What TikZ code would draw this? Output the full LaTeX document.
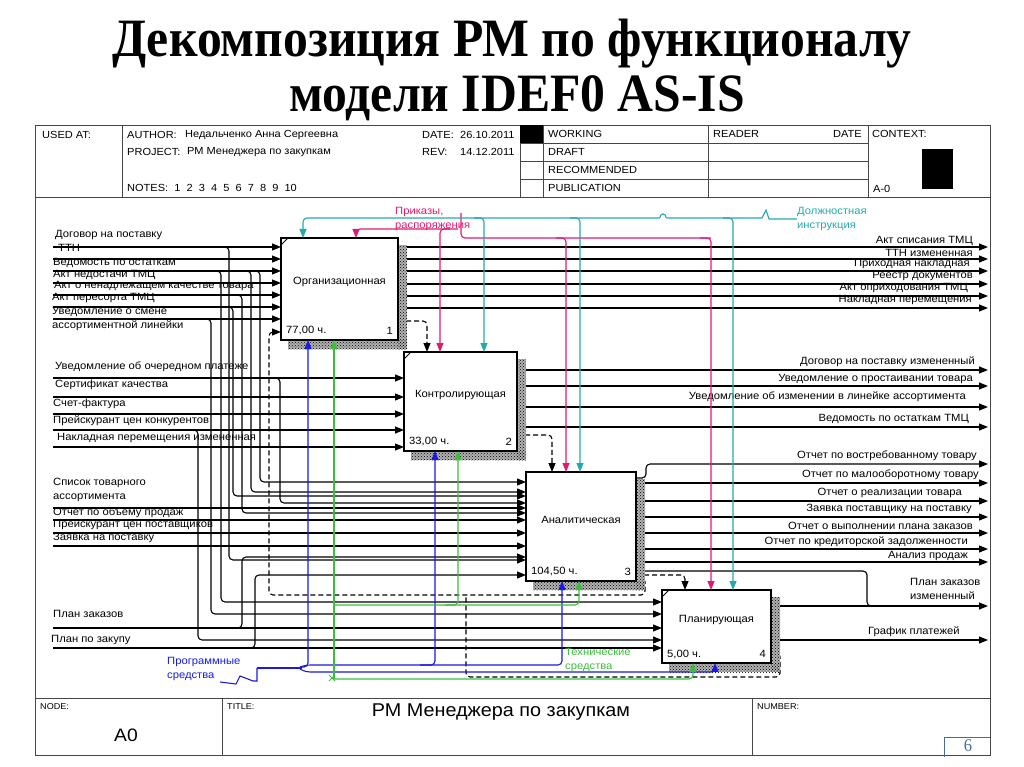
\documentclass[tikz,border=0pt]{standalone}
\usepackage{fontspec}
\setmainfont{Liberation Sans}[FakeStretch=1.07]
\newfontfamily\titlefont{Liberation Serif}[FakeStretch=0.92]
\usetikzlibrary{arrows.meta,patterns,calc}
\definecolor{mag}{RGB}{225,25,115}
\definecolor{tea}{RGB}{35,170,175}
\definecolor{blu}{RGB}{25,25,225}
\definecolor{grn}{RGB}{60,190,60}
\definecolor{frm}{RGB}{70,70,70}
\definecolor{pgn}{RGB}{70,110,150}
\pgfdeclarelayer{bg}
\pgfdeclarelayer{shdl}
\pgfsetlayers{bg,shdl,main}
\newcommand\ibox[8]{%
 \begin{pgfonlayer}{shdl}
 \fill[shd] (#4,#3+7) rectangle (#4+9,#5+9);
 \fill[shd] (#2+7,#5) rectangle (#4+9,#5+9);
 \fill[shdp] (#4,#3+7) rectangle (#4+9,#5+9);
 \fill[shdp] (#2+7,#5) rectangle (#4+9,#5+9);
 \end{pgfonlayer}
 \node[bx,minimum width=#4-#2,minimum height=#5-#3] (#1) at (#2,#3) {};
 \node[t] (#1t) at ($(#1.center)+(0,-7)$) {#6};
 \node[tl] (#1c) at ([xshift=5pt,yshift=9pt]#1.south west) {#7};
 \node[tr] (#1n) at ([xshift=-5pt,yshift=9pt]#1.south east) {#8};
}
\begin{document}
\begin{tikzpicture}[x=1pt,y=-1pt,
 bx/.style={draw,line width=1.5pt,fill=white,inner sep=0pt,outer sep=0pt,anchor=north west},
 shd/.style={fill=black!30},
 shdp/.style={pattern=crosshatch dots,pattern color=black},
 ln/.style={line width=1.1pt,rounded corners=4pt},
 ar/.style={ln,-{Triangle[length=9pt,width=7pt]}},
 dsh/.style={ar,dash pattern=on 5pt off 3pt},
 t/.style={font=\fontsize{10.5}{13.5}\selectfont,inner sep=0pt},
 tl/.style={t,anchor=west,align=left},
 tr/.style={t,anchor=east,align=right},
 hd/.style={font=\fontsize{10.3}{11}\selectfont,inner sep=0pt,anchor=west},
 fr/.style={draw=frm,line width=0.9pt},
]
\useasboundingbox (0,0) rectangle (1024,767);
% title
\node[font=\titlefont\fontsize{54}{58}\selectfont\bfseries,inner sep=0pt] (title1) at (512,44) {Декомпозиция РМ по функционалу};
\node[font=\titlefont\fontsize{54}{58}\selectfont\bfseries,inner sep=0pt] (title2) at (517,98) {модели IDEF0 AS-IS};
% frame
\draw[fr] (35,125) rectangle (990,755);
\draw[fr] (35,197) -- (990,197);
\draw[fr] (35,698) -- (990,698);
\draw[fr] (122,125) -- (122,197);
\draw[fr] (520,125) -- (520,197);
\draw[fr] (543,125) -- (543,197);
\draw[fr] (708,125) -- (708,197);
\draw[fr] (868,125) -- (868,197);
\draw[fr] (520,143) -- (868,143);
\draw[fr] (520,161) -- (868,161);
\draw[fr] (520,179) -- (868,179);
\fill (520,125) rectangle (543,143);
\fill (922,149) rectangle (953,189);
\draw[fr] (222,698) -- (222,755);
\draw[fr] (752,698) -- (752,755);
\draw[draw=pgn,line width=0.9pt] (944,757) -- (944,737) -- (990,737);
\node[font=\titlefont\fontsize{18}{18}\selectfont,text=pgn,inner sep=0pt] (pnum) at (968,746) {6};
% header text
\node[hd] (h1) at (42,135) {USED AT:};
\node[hd] (h2) at (127,135) {AUTHOR:};
\node[hd] (h3) at (185,135) {Недальченко Анна Сергеевна};
\node[hd] (h4) at (127,152) {PROJECT:};
\node[hd] (h5) at (187,152) {РМ Менеджера по закупкам};
\node[hd] (h6) at (422,135) {DATE:};
\node[hd] (h7) at (460,135) {26.10.2011};
\node[hd] (h8) at (422,152) {REV:};
\node[hd] (h9) at (460,152) {14.12.2011};
\node[hd] (h10) at (127,188) {NOTES:\ \ 1\ \ 2\ \ 3\ \ 4\ \ 5\ \ 6\ \ 7\ \ 8\ \ 9\ \ 10};
\node[hd] (h11) at (548,134) {WORKING};
\node[hd] (h12) at (548,152) {DRAFT};
\node[hd] (h13) at (548,170) {RECOMMENDED};
\node[hd] (h14) at (548,188) {PUBLICATION};
\node[hd] (h15) at (713,134) {READER};
\node[hd] (h16) at (833,134) {DATE};
\node[hd] (h17) at (872,134) {CONTEXT:};
\node[hd] (h18) at (873,189) {A-0};
% footer text
\node[hd,font=\fontsize{8.5}{10}\selectfont] (f1) at (40,707) {NODE:};
\node[inner sep=0pt,font=\fontsize{18}{18}\selectfont] (f2) at (126,735) {A0};
\node[hd,font=\fontsize{8.5}{10}\selectfont] (f3) at (227,707) {TITLE:};
\node[inner sep=0pt,font=\fontsize{18.5}{19}\selectfont] (f4) at (501,712) {РМ Менеджера по закупкам};
\node[hd,font=\fontsize{8.5}{10}\selectfont] (f5) at (757,707) {NUMBER:};
% boxes
\ibox{b1}{281}{238}{398}{340}{Организационная}{77,00 ч.}{1}
\ibox{b2}{404}{352}{517}{451}{Контролирующая}{33,00 ч.}{2}
\ibox{b3}{526}{472}{636}{581}{Аналитическая}{104,50 ч.}{3}
\ibox{b4}{662}{590}{771}{663}{Планирующая}{5,00 ч.}{4}
\foreach \b in {b1,b2,b4}{\draw[line width=0.8pt] ([yshift=-7pt]\b.north west) -- ([xshift=7pt]\b.north west);}
% outputs (background)
\begin{pgfonlayer}{bg}
\foreach \y in {247,259,271,284,296,308}{\draw[ar] (b1.east|-0,\y) -- (988,\y);}
\foreach \y in {370,386,407,427}{\draw[ar] (b2.east|-0,\y) -- (988,\y);}
\foreach \y in {483,501,517,533,549,562}{\draw[ar] (b3.east|-0,\y) -- (988,\y);}
\draw[ar] (b3.east|-0,478) -- (646,478) |- (988,464);
\draw[ln] (b3.east|-0,571) -| (867,606) -- (880,606);
\draw[ar] (b4.east|-0,606) -- (988,606);
\draw[ar] (b4.east|-0,640) -- (988,640);
\draw[dsh] (b1.east|-0,321) -| (b2.north-|427,0);
\draw[dsh] (b2.east|-0,435) -| (b3.north-|552,0);
\draw[dsh] (b3.east|-0,575) -| (b4.north-|685,0);
\draw[dsh] (b3.east|-0,578) -- (645,578) |- (269,595) |- (b1.west|-0,332);
\draw[ln,dash pattern=on 5pt off 3pt] (b4.east|-0,653) -- (780,653) |- (466,677) -- (466,595);
\end{pgfonlayer}
% output labels
\node[tr] (o1) at (973,241) {Акт списания ТМЦ};
\node[tr] (o2) at (973,253) {ТТН измененная};
\node[tr] (o3) at (970,264) {Приходная накладная};
\node[tr] (o4) at (973,276) {Реестр документов};
\node[tr] (o5) at (968,288) {Акт оприходования ТМЦ};
\node[tr] (o6) at (972,300) {Накладная перемещения};
\node[tr] (o7) at (975,362) {Договор на поставку измененный};
\node[tr] (o8) at (973,379) {Уведомление о простаивании товара};
\node[tr] (o9) at (966,397) {Уведомление об изменении в линейке ассортимента};
\node[tr] (o10) at (969,419) {Ведомость по остаткам ТМЦ};
\node[tr] (o11) at (977,456) {Отчет по востребованному товару};
\node[tr] (o12) at (979,475) {Отчет по малооборотному товару};
\node[tr] (o13) at (962,493) {Отчет о реализации товара};
\node[tr] (o14) at (972,509) {Заявка поставщику на поставку};
\node[tr] (o15) at (973,526) {Отчет о выполнении плана заказов};
\node[tr] (o16) at (968,542) {Отчет по кредиторской задолженности};
\node[tr] (o17) at (968,556) {Анализ продаж};
\node[tl] (o18) at (910,589) {План заказов\\измененный};
\node[tl] (o19) at (868,632) {График платежей};
% left labels
\node[tl] (i1) at (55,235) {Договор на поставку};
\node[tl] (i2) at (58,248) {ТТН};
\node[tl] (i3) at (53,263) {Ведомость по остаткам};
\node[tl] (i4) at (53,275) {Акт недостачи ТМЦ};
\node[tl] (i5) at (54,286) {Акт о ненадлежащем качестве товара};
\node[tl] (i6) at (52,298) {Акт пересорта ТМЦ};
\node[tl] (i7) at (52,319) {Уведомление о смене\\ассортиментной линейки};
\node[tl] (i8) at (55,367) {Уведомление об очередном платеже};
\node[tl] (i9) at (55,385) {Сертификат качества};
\node[tl] (i10) at (53,404) {Счет-фактура};
\node[tl] (i11) at (53,421) {Прейскурант цен конкурентов};
\node[tl] (i12) at (57,438) {Накладная перемещения измененная};
\node[tl] (i13) at (53,490) {Список товарного\\ассортимента};
\node[tl] (i14) at (53,513) {Отчет по объему продаж};
\node[tl] (i15) at (53,525) {Прейскурант цен поставщиков};
\node[tl] (i16) at (53,538) {Заявка на поставку};
\node[tl] (i17) at (53,614) {План заказов};
\node[tl] (i18) at (51,640) {План по закупу};
% inputs
\foreach \y in {247,259,271,283,295,307,319}{\draw[ar] (53,\y) -- (b1.west|-0,\y);}
\foreach \y in {378,397,414,430,447}{\draw[ar] (53,\y) -- (b2.west|-0,\y);}
\foreach \y in {508,520,533,546}{\draw[ar] (53,\y) -- (b3.west|-0,\y);}
\foreach \y in {628,648}{\draw[ar] (53,\y) -- (b4.west|-0,\y);}
% branches to box 3
\draw[ar] (220,247) -| (229,400) |- (b3.west|-0,560);
\draw[ar] (250,271) -| (260,400) |- (b3.west|-0,482);
\draw[ar] (240,271) -| (251,400) |- (b3.west|-0,492);
\draw[ar] (225,307) -| (233,400) |- (b3.west|-0,496);
\draw[ar] (235,295) -| (242,400) |- (b3.west|-0,513);
\draw[ar] (270,378) -| (280,450) |- (b3.west|-0,503);
\draw[ar] (235,628) -| (242,600) |- (b3.west|-0,557);
\draw[ar] (248,648) -| (255,620) |- (b3.west|-0,575);
% branches to box 4
\draw[ar] (212,271) -| (221,500) |- (b4.west|-0,602);
\draw[ar] (203,319) -| (211,500) |- (b4.west|-0,614);
\draw[ar] (190,430) -| (198,550) |- (b4.west|-0,640);
% controls: magenta
\node[tl,text=mag] (cm) at (395,219) {Приказы,\\распоряжения};
\draw[ln,mag] (461,213) |- (711,238);
\draw[ar,mag] (700,238) -| (b4.north-|711,0);
\draw[ar,mag] (556,238) -| (b3.north-|566,0);
\draw[ar,mag] (458,229) -| (b1.north-|356,0);
\draw[ar,mag] (450,229) -| (b2.north-|440,0);
% controls: teal
\node[tl,text=tea] (ct) at (797,219) {Должностная\\инструкция};
\draw[ln,tea] (313,218) -- (655,218) .. controls (661,218) and (660,216) .. (663,212) .. controls (666,216) and (665,218) .. (671,218) -- (740,218);
\draw[ln,tea,rounded corners=0pt] (740,218) -- (762,218) -- (766,210) -- (769,219) -- (ct.west);
\draw[ar,tea] (313,218) -| (b1.north-|303,0);
\draw[ar,tea] (474,218) -| (b2.north-|484,0);
\draw[ar,tea] (570,218) -| (b3.north-|580,0);
\draw[ar,tea] (723,218) -| (b4.north-|733,0);
% mechanisms: blue
\node[tl,text=blu] (mb) at (167,669) {Программные\\средства};
\draw[ln,blu,rounded corners=0pt] (220,682) -- (236,684) -- (240,676) -- (253,681) -- (257,681) -- (257,668);
\draw[ln,blu] (257,668) -- (302,668);
\draw[ar,blu] (300,667) -| (b1.south-|308,0);
\draw[ar,blu] (300,667) -- (306,665) -| (b3.south-|562,0);
\draw[ar,blu] (420,665) -| (b2.south-|435,0);
\draw[ar,blu] (300,669) -- (306,672) -| (b4.south-|715,0);
% mechanisms: green
\node[tl,text=grn] (mg) at (565,660) {Технические\\средства};
\draw[ar,grn] (334,679) -- (b1.south-|334,0);
\draw[ar,grn] (334,679) -| (b4.south-|693,0);
\draw[ar,grn] (334,605) -| (b3.south-|579,0);
\draw[ar,grn] (445,605) -| (b2.south-|458,0);
\draw[grn,line width=0.9pt] (329,675) -- (335,681) (329,681) -- (335,675);
\end{tikzpicture}
\end{document}
